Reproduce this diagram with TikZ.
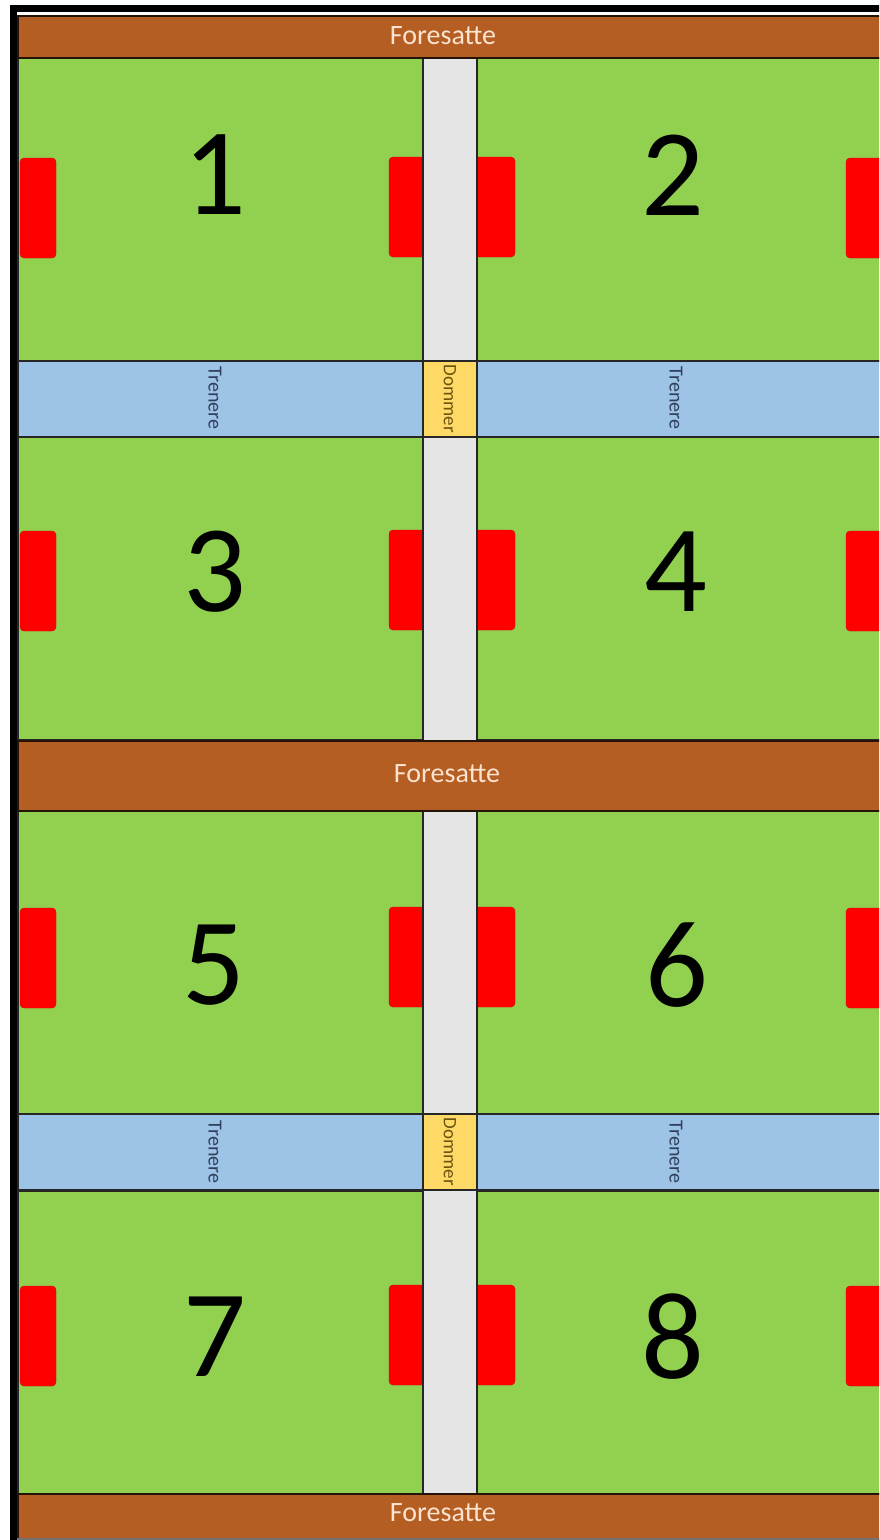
\documentclass[tikz,border=0pt]{standalone}
\usepackage{fontspec}
\setmainfont{Carlito}
\usetikzlibrary{positioning}
\definecolor{gress}{HTML}{92D050}
\definecolor{brun}{HTML}{B45E24}
\definecolor{lyseblaa}{HTML}{9DC3E6}
\definecolor{gul}{HTML}{FFD966}
\definecolor{lysgraa}{HTML}{E6E5E6}
\definecolor{fersken}{HTML}{FBE3D0}
\definecolor{trenerfarge}{HTML}{2F3F5C}
\definecolor{dommerfarge}{HTML}{6B5310}
\begin{document}
\begin{tikzpicture}[x=1pt,y=-1pt,
field/.style={draw=black!85,line width=1.8pt,fill=gress,anchor=north west,inner sep=0pt,minimum width=#1,minimum height=303pt},
goal/.style={fill=red,draw=red!85!black,line width=0.4pt,rounded corners=4pt},
trenerband/.style={draw=black!85,line width=1.8pt,fill=lyseblaa,anchor=north west,inner sep=0pt,minimum width=#1,minimum height=76pt},
trenertekst/.style={rotate=-90,text=trenerfarge,font=\fontsize{20}{20}\selectfont,inner sep=0pt},
strip/.style={draw=black!85,line width=1.8pt,fill=lysgraa,anchor=north west,inner sep=0pt,minimum width=54pt,minimum height=#1},
dommerbox/.style={draw=black!85,line width=1.8pt,fill=gul,anchor=north west,inner sep=0pt,minimum width=54pt,minimum height=76pt},
dommertekst/.style={rotate=-90,text=dommerfarge,font=\fontsize{19}{19}\selectfont,inner sep=0pt},
foresatte/.style={draw=black!80!brun,line width=1.8pt,fill=brun,anchor=north west,inner sep=0pt,minimum width=875pt,minimum height=#1},
fstekst/.style={text=fersken,font=\fontsize{28}{28}\selectfont},
nummer/.style={inner sep=0pt,font=\fontsize{124}{124}\selectfont}]
\clip (0,0) rectangle (879,1540);
\fill[white] (0,0) rectangle (879,1540);
% baner
\node[field=405pt](field1) at (17,57){};
\node[field=420pt](field2) at (476,57){};
\node[field=405pt](field3) at (17,436){};
\node[field=420pt](field4) at (476,436){};
\node[field=405pt](field5) at (17,810){};
\node[field=420pt](field6) at (476,810){};
\node[field=405pt](field7) at (17,1190){};
\node[field=420pt](field8) at (476,1190){};
% mål
\foreach \gy in {208,581,958,1336}{
  \draw[goal] (20,\gy-50) rectangle (56,\gy+50);
  \draw[goal] (389,\gy-51) rectangle (432,\gy+49);
  \draw[goal] (466,\gy-51) rectangle (515,\gy+49);
  \draw[goal] (846,\gy-50) rectangle (895,\gy+50);
}
% trenere
\node[trenerband=405pt](trener1) at (17,360){};
\node[trenerband=420pt](trener2) at (476,360){};
\node[trenerband=405pt](trener3) at (17,1113){};
\node[trenerband=420pt](trener4) at (476,1113){};
\node[trenertekst] at (215,398){Trenere};
\node[trenertekst] at (676,398){Trenere};
\node[trenertekst] at (215,1152){Trenere};
\node[trenertekst] at (676,1152){Trenere};
% midtgang og dommere
\node[strip=683pt](strip1) at (422,57){};
\node[strip=683pt](strip2) at (422,810){};
\node[dommerbox](dommer1) at (422,360){};
\node[dommerbox](dommer2) at (422,1113){};
\node[dommertekst] at (dommer1.center){Dommer};
\node[dommertekst] at (dommer2.center){Dommer};
% numre
\node[nummer](n1) at (215,175){1};
\node[nummer](n2) at (673,175){2};
\node[nummer](n3) at (215,572){3};
\node[nummer](n4) at (676,572){4};
\node[nummer](n5) at (214,965){5};
\node[nummer](n6) at (677,965){6};
\node[nummer](n7) at (215,1337){7};
\node[nummer](n8) at (673,1337){8};
% foresatte
\node[foresatte=42pt](fs1) at (17,15){};
\node[foresatte=70pt](fs2) at (17,740){};
\node[foresatte=45pt](fs3) at (17,1493){};
\node[fstekst] at (443,36){Foresatte};
\node[fstekst] at (447,774){Foresatte};
\node[fstekst] at (443,1513){Foresatte};
% ramme
\draw[line width=7pt] (13.5,1545) -- (13.5,8.5) -- (890,8.5);
\draw[white,line width=1.5pt,dashed] (17,13.5) -- (890,13.5);
\draw[black!55,line width=1.5pt] (17,1539) -- (890,1539);
\end{tikzpicture}
\end{document}
